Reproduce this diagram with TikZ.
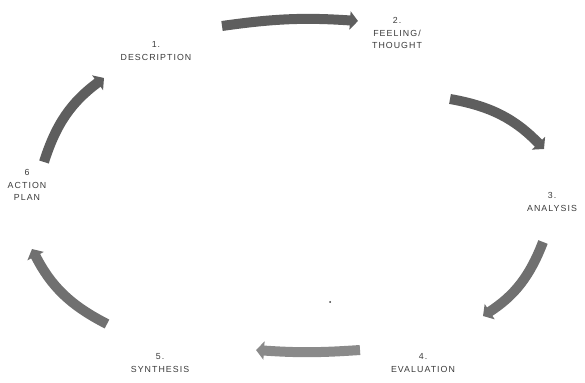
\documentclass[tikz,border=0pt]{standalone}
\usepackage{fontspec}
\setmainfont{Liberation Sans}[LetterSpace=12]
\usepackage{tikz}
\usetikzlibrary{arrows.meta}
\definecolor{cycDark}{HTML}{5E5E5E}
\definecolor{cycMid}{HTML}{707070}
\definecolor{cycLight}{HTML}{8A8A8A}
\definecolor{cycText}{HTML}{3A3A3A}

\begin{document}
\begin{tikzpicture}[
    x=1pt, y=1pt,
    stage/.style={
        font=\fontsize{8.8}{12.8}\selectfont, text=cycText,
        align=center, inner sep=0pt, anchor=center
    },
    flow/.style={
        line width=10pt, draw=cycMid, bend left=18,
        -{Triangle[width=18pt, length=8pt]}
    }
]
\useasboundingbox (0,0) rectangle (585,382);

% === Stages ===
\node[stage] (desc) at (156,331) {1.\\DESCRIPTION};
\node[stage] (feel) at (397,349) {2.\\FEELING/\\THOUGHT};
\node[stage] (anal) at (552,180) {3.\\ANALYSIS};
\node[stage] (eval) at (423,19) {4.\\EVALUATION};
\node[stage] (synt) at (160,19) {5.\\SYNTHESIS};
\node[stage] (plan) at (27,197) {6\\ACTION\\PLAN};

% === Arrow ends ===
\coordinate (a1s) at (222,356);
\coordinate (a1e) at (358,361);
\coordinate (a2s) at (450,283);
\coordinate (a2e) at (544,233);
\coordinate (a3s) at (543,140);
\coordinate (a3e) at (483,66);
\coordinate (a4s) at (360,32);
\coordinate (a4e) at (256,32);
\coordinate (a5s) at (107,58);
\coordinate (a5e) at (32,133);
\coordinate (a6s) at (44,220);
\coordinate (a6e) at (104,304);

% === Arrows ===
\draw[flow, draw=cycDark, bend left=6] (a1s) to (a1e);
\draw[flow, draw=cycDark] (a2s) to (a2e);
\draw[flow] (a3s) to (a3e);
\draw[flow, draw=cycLight, bend left=4] (a4s) to (a4e);
\draw[flow] (a5s) to (a5e);
\draw[flow, draw=cycDark] (a6s) to (a6e);

% stray dot
\fill[cycText] (330,80) circle (1pt);

\end{tikzpicture}
\end{document}
